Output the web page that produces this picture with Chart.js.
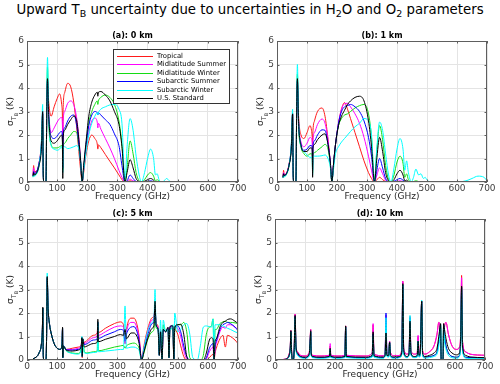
<!DOCTYPE html>
<html>
<head>
<meta charset="utf-8">
<script src="https://cdn.jsdelivr.net/npm/chart.js@4/dist/chart.umd.min.js"></script>
<style>
  body { margin: 0; background: #fff; }
  #wrap { position: relative; width: 500px; height: 384px; overflow: hidden; }
  #title { position: absolute; left: 0; top: 1px; width: 500px; text-align: center;
    font: 13.3px "DejaVu Sans", sans-serif; color: #000; line-height: 17px; white-space: nowrap; }
  #title sub { font-size: 9.5px; vertical-align: -3px; line-height: 0; }
  canvas { position: absolute; }
</style>
</head>
<body>
<div id="wrap">
  <div id="title">Upward T<sub>B</sub> uncertainty due to uncertainties in H<sub>2</sub>O and O<sub>2</sub> parameters</div>
  <canvas id="cA" width="250" height="180" style="left:0;top:24px"></canvas>
  <canvas id="cB" width="250" height="180" style="left:250px;top:24px"></canvas>
  <canvas id="cC" width="250" height="180" style="left:0;top:202px"></canvas>
  <canvas id="cD" width="250" height="180" style="left:248px;top:202px"></canvas>
</div>
<script>
// profiles
const seriesNames = ["Tropical", "Midlatitude Summer", "Midlatitude Winter", "Subarctic Summer", "Subarctic Winter", "U.S. Standard"];
const seriesColors = ["#ff1a1a", "#ff00ff", "#14dc14", "#0000ff", "#00ffff", "#000000"];
const panelTitles = ["(a): 0 km", "(b): 1 km", "(c): 5 km", "(d): 10 km"];
const xTicks = [0, 100, 200, 300, 400, 500, 600, 700];
const yTicks = [0, 1, 2, 3, 4, 5, 6];

// ---- panel (a): 0 km ----
const freqA = [20, 22, 24, 30, 40, 48, 52, 54, 56, 63,
  66, 68, 72, 80, 90, 100, 108, 115, 117.5, 118.7,
  120, 125, 135, 145, 155, 165, 172, 178, 183, 188,
  195, 205, 215, 225, 233, 235, 237, 245, 260, 275,
  290, 305, 315, 325, 332, 342, 352, 362, 372, 380,
  390, 400, 410, 420, 426, 432, 438, 448, 455, 463,
  472, 480, 500, 600, 700];
const tropA = [0.3, 0.7, 0.45, 0.45, 0.8, 1.7, 2.9, 0.3, 0, 0,
  3.5, 4.3, 3.4, 2.8, 3.2, 3.55, 3.75, 3.3, 2.8, 1.8,
  3.2, 3.8, 4.2, 4.05, 3.4, 2.3, 1.3, 0.5, 0, 0.4,
  1.1, 1.75, 2.0, 1.85, 1.62, 1.4, 1.58, 1.46, 1.17, 0.88,
  0.6, 0.3, 0.1, 0, 0.01, 0.05, 0.02, 0, 0, 0,
  0, 0, 0, 0, 0, 0, 0, 0, 0, 0,
  0, 0, 0, 0, 0];
const mlsA = [0.28, 0.6, 0.4, 0.42, 0.8, 1.7, 3.0, 0.3, 0, 0,
  3.5, 4.3, 3.0, 2.1, 2.3, 2.55, 2.7, 2.75, 2.4, 1.2,
  2.6, 3.0, 3.35, 3.45, 3.3, 2.7, 1.9, 0.9, 0, 0.5,
  1.3, 2.1, 2.6, 2.72, 2.55, 2.3, 2.5, 2.25, 1.85, 1.45,
  1.0, 0.5, 0.2, 0, 0.03, 0.12, 0.05, 0.01, 0, 0,
  0, 0, 0, 0, 0, 0, 0, 0, 0, 0,
  0, 0, 0, 0, 0];
const mlwA = [0.22, 0.35, 0.3, 0.35, 0.75, 1.6, 2.9, 0.3, 0, 0,
  3.8, 4.9, 2.6, 1.6, 1.45, 1.45, 1.5, 1.55, 1.4, 0.5,
  1.5, 1.65, 1.85, 2.0, 2.15, 2.1, 1.5, 0.8, 0, 0.6,
  1.4, 2.5, 3.0, 3.3, 3.45, 3.3, 3.45, 3.6, 3.7, 3.6,
  3.3, 2.6, 1.6, 0, 0.6, 1.75, 1.2, 0.4, 0.05, 0,
  0.1, 0.3, 0.4, 0.25, 0.05, 0.1, 0.03, 0, 0, 0,
  0, 0, 0, 0, 0];
const sasA = [0.25, 0.45, 0.35, 0.4, 0.8, 1.6, 2.9, 0.3, 0, 0,
  3.5, 4.3, 2.8, 1.95, 1.85, 1.95, 2.1, 2.15, 1.9, 0.6,
  2.0, 2.3, 2.6, 2.8, 2.85, 2.4, 1.6, 0.8, 0, 0.6,
  1.5, 2.4, 2.85, 3.0, 2.95, 2.85, 2.95, 2.85, 2.65, 2.45,
  2.05, 1.55, 0.7, 0, 0.05, 0.3, 0.15, 0.02, 0, 0,
  0.01, 0.03, 0.05, 0.02, 0, 0, 0, 0, 0, 0,
  0, 0, 0, 0, 0];
const sawA = [0.2, 0.3, 0.25, 0.3, 0.7, 1.8, 3.3, 0.3, 0, 0,
  4.0, 5.3, 2.8, 1.55, 1.4, 1.35, 1.4, 1.5, 1.4, 0.4,
  1.45, 1.5, 1.42, 1.45, 1.5, 1.55, 1.4, 0.9, 0, 0.5,
  1.2, 2.0, 2.5, 2.8, 2.95, 2.85, 2.95, 3.1, 3.2, 3.28,
  3.3, 3.1, 2.5, 0, 1.5, 2.7, 2.2, 1.1, 0.3, 0,
  0.4, 1.0, 1.4, 1.0, 0.3, 0.35, 0.1, 0, 0.05, 0.15,
  0.05, 0, 0, 0, 0];
const ussA = [0.25, 0.4, 0.3, 0.35, 0.7, 1.5, 3.0, 0.3, 0, 0,
  3.6, 4.4, 2.8, 1.75, 1.65, 1.75, 1.9, 2.0, 1.7, 0.15,
  1.9, 2.2, 2.45, 2.65, 2.8, 2.6, 1.8, 0.9, 0, 0.7,
  1.6, 2.8, 3.4, 3.7, 3.82, 3.65, 3.82, 3.85, 3.7, 3.45,
  3.0, 2.45, 1.5, 0, 0.4, 0.95, 0.6, 0.15, 0.02, 0,
  0.03, 0.1, 0.15, 0.08, 0.01, 0.01, 0, 0, 0, 0,
  0, 0, 0, 0, 0];

// ---- panel (b): 1 km ----
const freqB = [20, 22, 24, 30, 40, 48, 52, 54, 56, 63,
  66, 68, 72, 80, 90, 100, 110, 115, 117.5, 118.7,
  120, 125, 135, 150, 160, 170, 178, 183, 188, 195,
  205, 215, 225, 235, 245, 260, 275, 290, 305, 315,
  325, 332, 342, 352, 362, 372, 380, 390, 400, 410,
  420, 426, 432, 438, 448, 455, 463, 472, 480, 488,
  494, 500, 520, 600, 630, 650, 670, 690, 700];
const tropB = [0.2, 0.5, 0.3, 0.35, 0.75, 1.6, 2.9, 0.3, 0, 0,
  3.5, 4.3, 2.8, 2.0, 1.85, 2.1, 2.4, 2.2, 1.9, 1.6,
  2.2, 2.6, 3.0, 3.15, 2.8, 1.8, 0.7, 0, 0.7, 1.6,
  2.5, 3.1, 3.38, 3.1, 2.7, 2.1, 1.5, 0.9, 0.4, 0.15,
  0, 0.08, 0.2, 0.1, 0.02, 0, 0, 0, 0, 0,
  0, 0, 0, 0, 0, 0, 0, 0, 0, 0,
  0, 0, 0, 0, 0, 0, 0, 0, 0];
const mlsB = [0.2, 0.4, 0.3, 0.35, 0.75, 1.6, 2.9, 0.3, 0, 0,
  3.5, 4.3, 2.6, 1.7, 1.5, 1.65, 1.9, 1.85, 1.6, 0.8,
  1.8, 2.1, 2.45, 2.68, 2.5, 1.8, 0.8, 0, 0.7, 1.6,
  2.5, 3.1, 3.33, 3.35, 3.2, 2.9, 2.5, 1.9, 1.1, 0.5,
  0, 0.25, 0.6, 0.35, 0.08, 0, 0, 0.01, 0.03, 0.05,
  0.02, 0, 0, 0, 0, 0, 0, 0, 0, 0,
  0, 0, 0, 0, 0, 0, 0, 0, 0];
const mlwB = [0.18, 0.3, 0.25, 0.3, 0.7, 1.55, 2.9, 0.3, 0, 0,
  3.7, 4.6, 2.4, 1.5, 1.2, 1.1, 1.2, 1.2, 1.1, 0.4,
  1.2, 1.25, 1.35, 1.5, 1.6, 1.4, 0.7, 0, 0.7, 1.6,
  2.4, 2.7, 2.85, 2.9, 3.0, 3.15, 3.25, 3.3, 2.9, 1.9,
  0, 1.2, 2.4, 1.8, 0.7, 0.1, 0, 0.3, 0.85, 1.1,
  0.8, 0.2, 0.35, 0.1, 0, 0.02, 0.05, 0.02, 0, 0,
  0, 0, 0, 0, 0, 0, 0, 0, 0];
const sasB = [0.2, 0.35, 0.28, 0.32, 0.72, 1.55, 2.9, 0.3, 0, 0,
  3.5, 4.3, 2.5, 1.6, 1.35, 1.4, 1.55, 1.55, 1.4, 0.5,
  1.55, 1.75, 2.0, 2.22, 2.2, 1.6, 0.8, 0, 0.7, 1.6,
  2.5, 3.0, 3.2, 3.25, 3.3, 3.2, 3.0, 2.6, 1.9, 1.1,
  0, 0.45, 1.0, 0.6, 0.15, 0.01, 0, 0.03, 0.1, 0.15,
  0.08, 0.01, 0, 0, 0, 0, 0, 0, 0, 0,
  0, 0, 0, 0, 0, 0, 0, 0, 0];
const sawB = [0.18, 0.28, 0.22, 0.28, 0.7, 1.7, 3.1, 0.3, 0, 0,
  3.8, 5.0, 2.6, 1.5, 1.3, 1.15, 1.05, 1.05, 1.0, 0.3,
  1.05, 1.1, 1.1, 1.12, 1.15, 1.0, 0.6, 0, 0.5, 1.2,
  1.5, 1.7, 1.85, 2.0, 2.15, 2.35, 2.5, 2.7, 2.6, 2.0,
  0, 1.3, 2.55, 2.2, 1.2, 0.3, 0, 0.6, 1.4, 1.85,
  1.4, 0.5, 0.9, 0.4, 0, 0.2, 0.55, 0.3, 0.35, 0.15,
  0.2, 0.08, 0, 0, 0.05, 0.15, 0.25, 0.2, 0.05];
const ussB = [0.2, 0.35, 0.28, 0.32, 0.7, 1.5, 2.9, 0.3, 0, 0,
  3.6, 4.4, 2.5, 1.55, 1.3, 1.3, 1.45, 1.45, 1.3, 0.2,
  1.45, 1.6, 1.8, 2.0, 2.05, 1.6, 0.8, 0, 0.7, 1.6,
  2.4, 2.8, 3.05, 3.3, 3.45, 3.6, 3.65, 3.45, 2.6, 1.5,
  0, 0.9, 1.9, 1.3, 0.4, 0.05, 0, 0.1, 0.35, 0.5,
  0.3, 0.05, 0.08, 0.02, 0, 0, 0, 0, 0, 0,
  0, 0, 0, 0, 0, 0, 0, 0, 0];

// ---- panel (c): 5 km ----
const freqC = [20, 30, 40, 48, 51, 52.5, 54, 56, 63, 65,
  67, 70, 75, 80, 90, 100, 110, 116, 118, 118.8,
  121, 130, 150, 170, 180, 182, 183.3, 185, 190, 200,
  220, 233, 235, 237, 260, 290, 310, 320, 325.2, 330,
  345, 355, 365, 372, 380.2, 388, 400, 415, 421, 424.8,
  428, 435, 439, 443, 448, 452, 460, 468, 471, 474,
  478, 484, 487.2, 490, 500, 510, 520, 530, 540, 550,
  565, 575, 585, 595, 605, 612, 617, 620.7, 624, 628,
  640, 650, 658, 665, 675, 690, 700];
const tropC = [0.05, 0.12, 0.3, 0.7, 1.3, 2.2, 0.2, 0, 0, 1.0,
  3.5, 2.2, 1.5, 1.15, 0.7, 0.5, 0.45, 0.65, 1.35, 0.1,
  0.6, 0.45, 0.5, 0.55, 0.65, 0.95, 0.1, 0.9, 0.75, 0.85,
  1.05, 1.15, 1.6, 1.17, 1.35, 1.55, 1.62, 1.5, 0.7, 1.3,
  1.78, 1.78, 1.5, 1.0, 0, 0.6, 1.3, 1.8, 1.85, 2.2,
  1.6, 1.4, 0.2, 1.3, 0, 1.3, 1.2, 1.35, 0.1, 1.35,
  1.4, 1.3, 0, 1.3, 1.1, 0.6, 0.15, 0, 0, 0,
  0, 0, 0, 0, 0.1, 0.2, 0.25, 0, 0.3, 0.5,
  0.9, 1.05, 0.55, 1.05, 1.0, 0.85, 0.7];
const mlsC = [0.05, 0.12, 0.3, 0.7, 1.3, 2.2, 0.2, 0, 0, 1.0,
  3.5, 2.2, 1.5, 1.15, 0.7, 0.5, 0.45, 0.65, 1.35, 0.1,
  0.6, 0.45, 0.45, 0.5, 0.62, 0.95, 0.15, 0.9, 0.7, 0.78,
  0.95, 1.03, 1.6, 1.05, 1.2, 1.4, 1.45, 1.4, 0.7, 1.2,
  1.6, 1.6, 1.35, 0.9, 0, 0.5, 1.2, 1.7, 1.75, 2.3,
  1.55, 1.35, 0.2, 1.25, 0, 1.3, 1.2, 1.35, 0.1, 1.35,
  1.45, 1.4, 0, 1.4, 1.35, 1.0, 0.4, 0.05, 0, 0,
  0, 0, 0, 0.05, 0.35, 0.5, 0.55, 0, 0.5, 0.7,
  1.2, 1.4, 1.35, 1.5, 1.5, 1.4, 1.3];
const mlwC = [0.05, 0.12, 0.3, 0.7, 1.3, 2.2, 0.2, 0, 0, 1.0,
  3.5, 2.2, 1.5, 1.15, 0.7, 0.5, 0.45, 0.65, 1.35, 0.1,
  0.6, 0.4, 0.3, 0.28, 0.5, 0.95, 0.15, 0.9, 0.35, 0.3,
  0.35, 0.38, 1.6, 0.39, 0.45, 0.55, 0.6, 0.62, 0.5, 0.6,
  0.7, 0.72, 0.65, 0.5, 0, 0.3, 0.85, 1.2, 1.3, 2.3,
  1.4, 1.25, 0.2, 1.2, 0, 1.5, 1.2, 1.3, 0.1, 1.3,
  1.35, 1.2, 0, 1.2, 1.5, 1.5, 1.6, 1.2, 0.1, 0,
  0, 0, 0.2, 1.1, 1.4, 1.45, 1.75, 0, 1.3, 1.3,
  1.55, 1.62, 1.65, 1.6, 1.6, 1.58, 1.55];
const sasC = [0.05, 0.12, 0.3, 0.7, 1.3, 2.2, 0.2, 0, 0, 1.0,
  3.5, 2.2, 1.5, 1.15, 0.7, 0.5, 0.45, 0.65, 1.35, 0.1,
  0.6, 0.43, 0.42, 0.45, 0.6, 0.95, 0.15, 0.9, 0.65, 0.7,
  0.85, 0.9, 1.6, 0.92, 1.05, 1.2, 1.3, 1.25, 0.8, 1.1,
  1.4, 1.42, 1.2, 0.8, 0, 0.45, 1.05, 1.55, 1.6, 2.3,
  1.5, 1.3, 0.2, 1.2, 0, 1.3, 1.2, 1.35, 0.1, 1.35,
  1.45, 1.4, 0, 1.4, 1.45, 1.2, 0.6, 0.15, 0, 0,
  0, 0, 0, 0.1, 0.5, 0.65, 0.7, 0, 0.6, 0.8,
  1.3, 1.5, 1.55, 1.6, 1.55, 1.4, 1.25];
const sawC = [0.05, 0.12, 0.3, 0.7, 1.3, 2.2, 0.2, 0, 0, 1.0,
  3.7, 2.2, 1.5, 1.15, 0.7, 0.5, 0.45, 0.65, 1.35, 0.1,
  0.6, 0.4, 0.28, 0.25, 0.45, 1.0, 0.15, 0.9, 0.3, 0.28,
  0.32, 0.34, 1.6, 0.35, 0.38, 0.42, 0.45, 0.45, 2.3, 0.5,
  0.55, 0.55, 0.5, 0.4, 0, 0.5, 1.2, 1.6, 1.7, 3.0,
  1.5, 1.3, 0.2, 1.7, 0, 1.7, 1.2, 1.3, 0.1, 1.3,
  1.3, 1.5, 0, 2.0, 1.2, 1.3, 1.5, 1.55, 1.1, 0.1,
  0, 0.6, 1.4, 1.45, 1.42, 1.4, 1.75, 0, 1.5, 1.5,
  1.5, 1.45, 1.4, 1.35, 1.3, 1.2, 1.15];
const ussC = [0.05, 0.12, 0.3, 0.7, 1.3, 2.25, 0.2, 0, 0, 1.0,
  3.55, 2.2, 1.5, 1.15, 0.7, 0.5, 0.45, 0.65, 1.4, 0.1,
  0.6, 0.42, 0.38, 0.42, 0.58, 0.95, 0.15, 0.9, 0.55, 0.6,
  0.7, 0.76, 1.73, 0.78, 0.88, 1.0, 1.08, 1.05, 1.3, 0.9,
  1.15, 1.15, 1.0, 0.7, 0, 0.35, 0.9, 1.35, 1.45, 2.5,
  1.5, 1.3, 0.2, 1.2, 0, 1.3, 1.2, 1.4, 0.1, 1.4,
  1.45, 1.45, 0, 1.4, 1.5, 1.52, 1.1, 0.15, 0, 0,
  0, 0, 0, 0.3, 0.85, 0.95, 0.9, 0, 0.8, 0.9,
  1.4, 1.6, 1.65, 1.72, 1.75, 1.65, 1.55];

// ---- panel (d): 10 km ----
const freqD = [20, 30, 40, 48, 51, 53, 55, 58, 61, 64,
  67, 70, 75, 85, 100, 114, 117.5, 119, 120.5, 125,
  150, 181, 184, 186, 210, 233, 235.5, 238, 300, 324,
  327, 330, 360, 367, 370, 373, 379, 382, 385, 398,
  402, 406, 415, 423, 426, 429, 440, 447, 450, 453,
  465, 474, 477, 480, 484, 489, 492, 500, 515, 530,
  540, 546, 550, 552, 554, 557, 560, 562, 565, 570,
  578, 590, 605, 615, 619, 622, 625, 635, 650, 700];
const tropD = [0, 0.03, 0.08, 0.3, 0.6, 1.25, 0.5, 0, 0, 0.5,
  1.95, 0.6, 0.35, 0.2, 0.17, 0.3, 1.0, 1.3, 0.35, 0.2,
  0.17, 0.2, 0.6, 0.2, 0.17, 0.2, 1.45, 0.2, 0.17, 0.3,
  1.5, 0.25, 0.18, 0.3, 1.7, 0.3, 0.3, 0.8, 0.3, 0.18,
  0.2, 0.18, 0.2, 0.5, 3.35, 0.5, 0.25, 0.4, 1.85, 0.4,
  0.25, 0.3, 1.0, 0.3, 0.4, 2.5, 0.4, 0.25, 0.35, 0.6,
  1.1, 1.6, 1.4, 0.8, 0, 0, 0, 0.8, 1.4, 1.6,
  1.1, 0.6, 0.45, 0.55, 1.2, 3.6, 0.8, 0.35, 0.25, 0.2];
const mlsD = [0, 0.03, 0.08, 0.3, 0.6, 1.25, 0.5, 0, 0, 0.5,
  1.95, 0.6, 0.35, 0.2, 0.17, 0.3, 1.0, 1.3, 0.35, 0.2,
  0.17, 0.2, 0.7, 0.2, 0.17, 0.2, 1.45, 0.2, 0.17, 0.3,
  1.55, 0.25, 0.18, 0.3, 1.9, 0.3, 0.3, 0.8, 0.3, 0.18,
  0.2, 0.18, 0.2, 0.5, 3.35, 0.5, 0.25, 0.4, 1.85, 0.4,
  0.25, 0.3, 1.05, 0.3, 0.4, 2.5, 0.4, 0.25, 0.35, 0.6,
  1.1, 1.6, 1.4, 0.8, 0, 0, 0, 0.8, 1.4, 1.6,
  1.1, 0.6, 0.45, 0.55, 1.2, 3.5, 0.8, 0.35, 0.25, 0.2];
const mlwD = [0, 0.02, 0.05, 0.22, 0.5, 1.2, 0.4, 0, 0, 0.4,
  1.85, 0.5, 0.25, 0.12, 0.1, 0.2, 0.85, 1.2, 0.25, 0.12,
  0.1, 0.12, 0.45, 0.12, 0.1, 0.12, 1.4, 0.12, 0.1, 0.15,
  1.1, 0.15, 0.1, 0.2, 1.5, 0.2, 0.15, 0.75, 0.15, 0.1,
  0.12, 0.1, 0.12, 0.3, 3.2, 0.3, 0.12, 0.25, 1.8, 0.25,
  0.12, 0.15, 0.8, 0.15, 0.2, 2.5, 0.2, 0.12, 0.15, 0.2,
  0.35, 0.8, 1.3, 1.5, 0, 0, 0, 1.5, 1.0, 0.6,
  0.3, 0.15, 0.12, 0.2, 0.9, 3.1, 0.5, 0.12, 0.1, 0.08];
const sasD = [0, 0.02, 0.05, 0.22, 0.5, 1.2, 0.4, 0, 0, 0.4,
  1.85, 0.5, 0.25, 0.12, 0.1, 0.2, 0.85, 1.2, 0.25, 0.12,
  0.1, 0.12, 0.45, 0.12, 0.1, 0.12, 1.4, 0.12, 0.1, 0.15,
  1.1, 0.15, 0.1, 0.2, 2.0, 0.2, 0.15, 0.75, 0.15, 0.1,
  0.12, 0.1, 0.12, 0.3, 3.2, 0.3, 0.12, 0.25, 1.8, 0.25,
  0.12, 0.15, 0.8, 0.15, 0.2, 2.5, 0.2, 0.12, 0.15, 0.2,
  0.35, 0.8, 1.3, 1.5, 0, 0, 0, 1.5, 1.0, 0.6,
  0.3, 0.15, 0.12, 0.2, 0.9, 3.1, 0.5, 0.12, 0.1, 0.08];
const sawD = [0, 0.02, 0.04, 0.2, 0.45, 1.2, 0.35, 0, 0, 0.35,
  1.8, 0.45, 0.2, 0.1, 0.07, 0.15, 0.8, 1.2, 0.2, 0.1,
  0.07, 0.1, 0.45, 0.1, 0.07, 0.1, 1.4, 0.1, 0.07, 0.12,
  1.0, 0.12, 0.07, 0.15, 1.8, 0.15, 0.12, 0.75, 0.12, 0.07,
  0.1, 0.07, 0.1, 0.25, 3.2, 0.25, 0.1, 0.2, 1.9, 0.2,
  0.1, 0.12, 0.8, 0.12, 0.15, 2.55, 0.15, 0.08, 0.1, 0.15,
  0.25, 0.6, 1.1, 1.5, 0, 0, 0, 1.5, 0.8, 0.45,
  0.2, 0.1, 0.07, 0.15, 0.8, 3.0, 0.4, 0.08, 0.06, 0.05];
const ussD = [0, 0.02, 0.06, 0.25, 0.55, 1.25, 0.45, 0, 0, 0.45,
  1.9, 0.55, 0.3, 0.15, 0.12, 0.25, 0.9, 1.25, 0.3, 0.15,
  0.12, 0.15, 0.5, 0.15, 0.12, 0.15, 1.45, 0.15, 0.12, 0.2,
  1.2, 0.18, 0.13, 0.2, 1.15, 0.2, 0.2, 0.75, 0.2, 0.13,
  0.15, 0.13, 0.15, 0.4, 3.25, 0.4, 0.15, 0.3, 1.65, 0.3,
  0.15, 0.2, 0.8, 0.2, 0.3, 2.5, 0.3, 0.15, 0.2, 0.3,
  0.5, 1.0, 1.4, 1.55, 0, 0, 0, 1.55, 1.3, 0.9,
  0.5, 0.3, 0.22, 0.3, 1.0, 3.15, 0.6, 0.2, 0.13, 0.1];

const FONT = '"DejaVu Sans", sans-serif';

// box, inner ticks, panel title, y label, legend
const framePlugin = {
  id: "frame",
  afterDraw(chart, args, opts) {
    const ctx = chart.ctx;
    const a = chart.chartArea;
    const sx = chart.scales.x, sy = chart.scales.y;
    ctx.save();
    ctx.strokeStyle = "#5e5e5e";
    ctx.lineWidth = 1;
    ctx.strokeRect(a.left + 0.5, a.top + 0.5, a.right - a.left - 1, a.bottom - a.top - 1);
    ctx.beginPath();
    xTicks.forEach((v) => {
      const px = Math.round(sx.getPixelForValue(v)) + 0.5;
      ctx.moveTo(px, a.bottom); ctx.lineTo(px, a.bottom - 2.5);
      ctx.moveTo(px, a.top); ctx.lineTo(px, a.top + 2.5);
    });
    yTicks.forEach((v) => {
      const py = Math.round(sy.getPixelForValue(v)) + 0.5;
      ctx.moveTo(a.left, py); ctx.lineTo(a.left + 2.5, py);
      ctx.moveTo(a.right, py); ctx.lineTo(a.right - 2.5, py);
    });
    ctx.stroke();

    // panel title
    ctx.fillStyle = "#000";
    ctx.font = "bold 8px " + FONT;
    ctx.textAlign = "center";
    ctx.textBaseline = "alphabetic";
    ctx.fillText(opts.title, (a.left + a.right) / 2, a.top - 3.5);

    // y label: sigma_{T_B} (K)
    const parts = [
      { t: "σ", size: 9, dy: 0 },
      { t: "T", size: 6.5, dy: 2.5 },
      { t: "B", size: 5, dy: 4.5 },
      { t: " (K)", size: 9, dy: 0 },
    ];
    ctx.save();
    ctx.translate(13, (a.top + a.bottom) / 2);
    ctx.rotate(-Math.PI / 2);
    ctx.textAlign = "left";
    ctx.fillStyle = "#262626";
    let total = 0;
    parts.forEach((p) => { ctx.font = p.size + "px " + FONT; p.w = ctx.measureText(p.t).width; total += p.w; });
    let x = -total / 2;
    parts.forEach((p) => { ctx.font = p.size + "px " + FONT; ctx.fillText(p.t, x, p.dy); x += p.w; });
    ctx.restore();

    if (opts.legend) {
      const lx = 113, ly = 25, lw = 116, lh = 54;
      ctx.fillStyle = "#fff";
      ctx.fillRect(lx, ly, lw, lh);
      ctx.strokeStyle = "#333";
      ctx.strokeRect(lx + 0.5, ly + 0.5, lw, lh);
      ctx.font = "6.8px " + FONT;
      ctx.textAlign = "left";
      ctx.textBaseline = "middle";
      seriesNames.forEach((name, i) => {
        const y = ly + 6.7 + i * 8.5;
        ctx.strokeStyle = seriesColors[i];
        ctx.beginPath();
        ctx.moveTo(117, Math.round(y) + 0.5);
        ctx.lineTo(153, Math.round(y) + 0.5);
        ctx.stroke();
        ctx.fillStyle = "#000";
        ctx.fillText(name, 157, y + 0.5);
      });
    }
    ctx.restore();
  },
};

const crearPanel = (canvasId, freq, series, title, legend, padRight) => {
  const datasets = series.map((vals, i) => ({
    label: seriesNames[i],
    data: freq.map((f, k) => ({ x: f, y: vals[k] })),
    borderColor: seriesColors[i],
    borderWidth: 1,
    pointRadius: 0,
    cubicInterpolationMode: "monotone",
    order: 6 - i,
  }));

  new Chart(document.getElementById(canvasId), {
    type: "line",
    data: { datasets },
    plugins: [framePlugin],
    options: {
      responsive: false,
      animation: false,
      layout: { padding: { top: 17, right: padRight, left: 0, bottom: 0 } },
      plugins: {
        legend: { display: false },
        tooltip: { enabled: false },
        frame: { title, legend },
      },
      scales: {
        x: {
          type: "linear", min: 0, max: 700,
          afterBuildTicks: (s) => { s.ticks = xTicks.map((v) => ({ value: v })); },
          afterFit: (s) => { s.height = 22; },
          ticks: { font: { size: 9, family: FONT }, color: "#404040", padding: 1, maxRotation: 0 },
          grid: { color: "#e4e4e4", drawTicks: false },
          border: { display: false },
          title: { display: true, text: "Frequency (GHz)", color: "#262626",
            font: { size: 9, family: FONT }, padding: { top: 0, bottom: 1.5 } },
        },
        y: {
          min: 0, max: 6,
          afterBuildTicks: (s) => { s.ticks = yTicks.map((v) => ({ value: v })); },
          afterFit: (s) => { s.width = 27; },
          ticks: { font: { size: 9, family: FONT }, color: "#404040", padding: 3 },
          grid: { color: "#e4e4e4", drawTicks: false },
          border: { display: false },
        },
      },
    },
  });
};

crearPanel("cA", freqA, [tropA, mlsA, mlwA, sasA, sawA, ussA], panelTitles[0], true, 12);
crearPanel("cB", freqB, [tropB, mlsB, mlwB, sasB, sawB, ussB], panelTitles[1], false, 13);
crearPanel("cC", freqC, [tropC, mlsC, mlwC, sasC, sawC, ussC], panelTitles[2], false, 12);
crearPanel("cD", freqD, [tropD, mlsD, mlwD, sasD, sawD, ussD], panelTitles[3], false, 13);
</script>
</body>
</html>
